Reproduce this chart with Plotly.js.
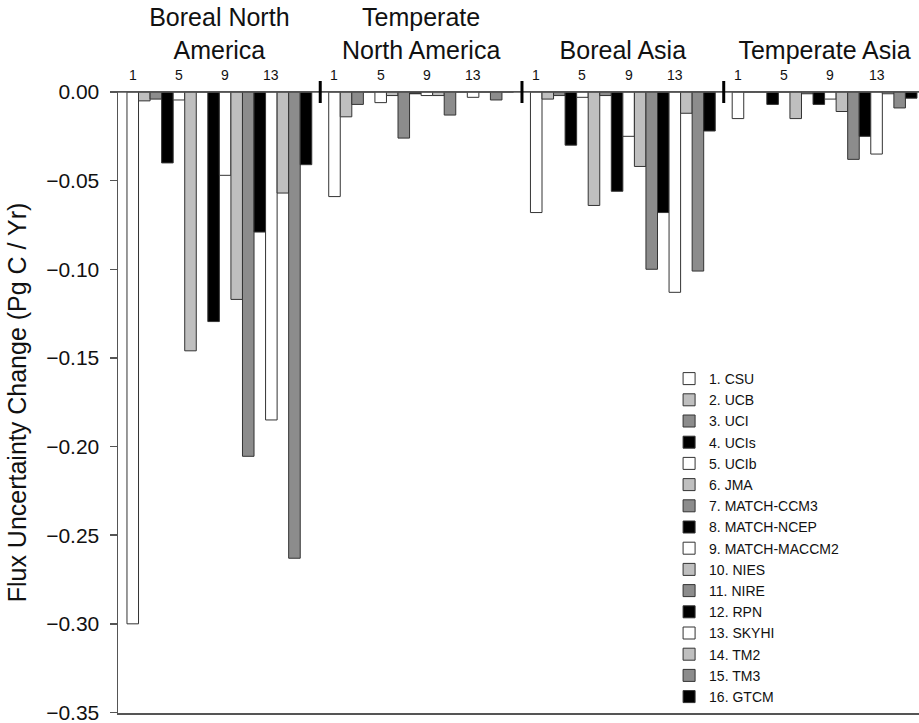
<!DOCTYPE html>
<html>
<head>
<meta charset="utf-8">
<script src="https://cdn.plot.ly/plotly-3.0.1.min.js"></script>
<style>html,body{margin:0;padding:0;background:#fff;}#chart{width:919px;height:723px;}</style>
</head>
<body>
<div id="chart"></div>
<script>
// ---- data ----
const regions = ["Boreal North<br>America", "Temperate<br>North America", "Boreal Asia", "Temperate Asia"];
const models = ["1. CSU", "2. UCB", "3. UCI", "4. UCIs", "5. UCIb", "6. JMA", "7. MATCH-CCM3", "8. MATCH-NCEP",
                "9. MATCH-MACCM2", "10. NIES", "11. NIRE", "12. RPN", "13. SKYHI", "14. TM2", "15. TM3", "16. GTCM"];
const borealNorthAmerica = [-0.300, -0.005, -0.004, -0.040, -0.0045, -0.146, 0, -0.1295, -0.047, -0.117, -0.2055, -0.079, -0.185, -0.057, -0.263, -0.041];
const temperateNorthAmerica = [-0.059, -0.014, -0.007, 0, -0.006, -0.002, -0.026, -0.001, -0.002, -0.002, -0.013, 0, -0.003, 0, -0.0045, 0];
const borealAsia = [-0.068, -0.004, -0.002, -0.030, -0.003, -0.064, -0.002, -0.056, -0.025, -0.042, -0.100, -0.068, -0.113, -0.012, -0.101, -0.022];
const temperateAsia = [-0.015, 0, 0, -0.007, 0, -0.015, -0.001, -0.007, -0.004, -0.011, -0.038, -0.025, -0.035, -0.001, -0.009, -0.0035];
const numberLabels = ["1", "5", "9", "13"];
const yTickValues = [0, -0.05, -0.10, -0.15, -0.20, -0.25, -0.30, -0.35];

// ---- style ----
const palette = ["#ffffff", "#bfbfbf", "#8c8c8c", "#000000"];
const FONT = "Liberation Sans, Arial, Helvetica, sans-serif";
const BARGAP = 0.084;

const regionValues = [borealNorthAmerica, temperateNorthAmerica, borealAsia, temperateAsia];
const traces = models.map((name, i) => ({
  type: "bar",
  name: name,
  x: regions,
  y: regionValues.map(r => r[i]),
  marker: {color: palette[i % 4], line: {color: "#333", width: 1}},
  hoverinfo: "skip"
}));

const slot = (1 - BARGAP) / models.length;
const annotations = [];
regions.forEach((reg, g) => {
  numberLabels.forEach(lbl => {
    const idx = models.findIndex(m => m.startsWith(lbl + "."));
    annotations.push({
      x: g - (1 - BARGAP) / 2 + (idx + 0.5) * slot,
      y: 0, xref: "x", yref: "y",
      text: lbl, showarrow: false,
      yanchor: "bottom", yshift: 7,
      font: {family: FONT, size: 14, color: "#111"}
    });
  });
});

const shapes = [
  // zero line across the top of the plot, drawn over the bars
  {type: "line", xref: "paper", yref: "paper", x0: 0, x1: 1, y0: 1, y1: 1,
   line: {color: "#555", width: 1.5}, layer: "above"}
];
for (let g = 0; g < regions.length - 1; g++) {
  shapes.push({
    type: "line", xref: "x", yref: "paper",
    x0: g + 0.5, x1: g + 0.5,
    ysizemode: "pixel", yanchor: 1, y0: -11, y1: 11,
    line: {color: "#000", width: 3}
  });
}

const layout = {
  width: 919, height: 723,
  margin: {l: 118, r: 0, t: 92, b: 10},
  paper_bgcolor: "#fff", plot_bgcolor: "#fff",
  barmode: "group", bargap: BARGAP, bargroupgap: 0,
  font: {family: FONT, color: "#111"},
  showlegend: true,
  legend: {
    x: 0.688, y: 0.0, xanchor: "left", yanchor: "bottom",
    bgcolor: "rgba(0,0,0,0)", borderwidth: 0,
    font: {family: FONT, size: 14, color: "#111"},
    tracegroupgap: 0
  },
  xaxis: {
    type: "category", side: "top",
    range: [-0.5025, 3.468],
    showline: true, mirror: true, linecolor: "#555", linewidth: 1.5,
    ticks: "", showgrid: false, zeroline: false,
    ticklabelstandoff: 22,
    tickfont: {family: FONT, size: 25, color: "#111"}
  },
  yaxis: {
    range: [-0.3503, 0],
    tickmode: "array", tickvals: yTickValues, tickformat: ".2f",
    ticklabeloverflow: "allow",
    showline: true, linecolor: "#555", linewidth: 1.5,
    ticks: "outside", ticklen: 7, tickcolor: "#555", tickwidth: 1.5,
    showgrid: false, zeroline: false,
    ticklabelstandoff: 6,
    tickfont: {family: FONT, size: 21, color: "#111"},
    title: {text: "Flux Uncertainty Change (Pg C / Yr)", font: {family: FONT, size: 25, color: "#111"}, standoff: 12}
  },
  annotations: annotations,
  shapes: shapes
};

Plotly.newPlot("chart", traces, layout, {displayModeBar: false, staticPlot: true});
</script>
</body>
</html>
